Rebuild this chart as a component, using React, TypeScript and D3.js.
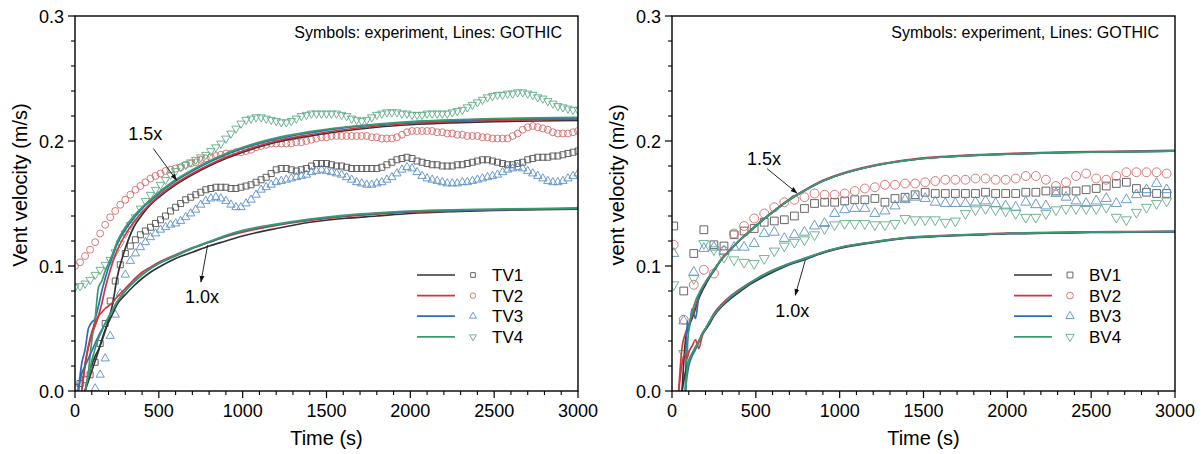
import React from 'react';
import * as d3 from 'd3';

// experiment sampling instants (s)
const topTime = d3.range(0, 3001, 30);
const botTime = d3.range(10, 3000, 60);
// GOTHIC output instants (s)
const modelTime = [0, 20, 40, 60, 80, 90, 100, 120, 140, 160, 180, 200, 225, 250, 300, 350, 400, 450, 500,
  600, 700, 800, 900, 1000, 1200, 1400, 1600, 1800, 2000, 2250, 2500, 2750, 3000];

// top vents, experiment
const TV1 = [0.003, 0.006, 0.009, 0.013, 0.023, 0.038, 0.054, 0.072, 0.088, 0.101, 0.110, 0.116, 0.121, 0.125, 0.128,
  0.131, 0.134, 0.137, 0.140, 0.144, 0.147, 0.150, 0.153, 0.155, 0.157, 0.159, 0.161, 0.162, 0.163, 0.163,
  0.163, 0.162, 0.162, 0.163, 0.164, 0.165, 0.167, 0.169, 0.171, 0.174, 0.177, 0.178, 0.178, 0.177, 0.176,
  0.177, 0.178, 0.180, 0.182, 0.182, 0.182, 0.181, 0.180, 0.180, 0.179, 0.178, 0.178, 0.178, 0.178, 0.178,
  0.178, 0.179, 0.181, 0.183, 0.185, 0.186, 0.187, 0.186, 0.184, 0.183, 0.182, 0.181, 0.181, 0.180, 0.180,
  0.180, 0.181, 0.181, 0.182, 0.183, 0.184, 0.185, 0.185, 0.184, 0.183, 0.182, 0.181, 0.181, 0.182, 0.183,
  0.185, 0.186, 0.187, 0.187, 0.187, 0.188, 0.188, 0.189, 0.190, 0.191, 0.192];
const TV2 = [0.100, 0.103, 0.108, 0.113, 0.119, 0.126, 0.133, 0.139, 0.144, 0.149, 0.153, 0.157, 0.161, 0.164, 0.167,
  0.170, 0.172, 0.174, 0.176, 0.177, 0.178, 0.179, 0.181, 0.182, 0.183, 0.185, 0.186, 0.187, 0.188, 0.189,
  0.190, 0.190, 0.191, 0.191, 0.192, 0.193, 0.195, 0.196, 0.197, 0.198, 0.198, 0.198, 0.198, 0.198, 0.199,
  0.199, 0.200, 0.201, 0.202, 0.203, 0.203, 0.204, 0.204, 0.204, 0.204, 0.204, 0.204, 0.204, 0.204, 0.203,
  0.203, 0.202, 0.202, 0.202, 0.203, 0.205, 0.207, 0.208, 0.208, 0.208, 0.208, 0.208, 0.207, 0.207, 0.206,
  0.206, 0.205, 0.205, 0.204, 0.204, 0.204, 0.203, 0.203, 0.202, 0.202, 0.202, 0.202, 0.204, 0.206, 0.209,
  0.211, 0.212, 0.211, 0.210, 0.209, 0.207, 0.206, 0.206, 0.206, 0.207, 0.208];
const TV3 = [null, null, null, null, 0.002, 0.013, 0.026, 0.044, 0.061, 0.078, 0.093, 0.104, 0.110, 0.115, 0.119,
  0.123, 0.126, 0.129, 0.131, 0.133, 0.134, 0.136, 0.139, 0.142, 0.145, 0.149, 0.152, 0.154, 0.155, 0.154,
  0.152, 0.149, 0.147, 0.147, 0.150, 0.153, 0.157, 0.161, 0.163, 0.165, 0.167, 0.168, 0.169, 0.170, 0.171,
  0.172, 0.173, 0.175, 0.176, 0.177, 0.176, 0.175, 0.174, 0.173, 0.171, 0.169, 0.167, 0.166, 0.165, 0.165,
  0.166, 0.167, 0.169, 0.171, 0.174, 0.177, 0.179, 0.178, 0.175, 0.172, 0.170, 0.169, 0.168, 0.167, 0.166,
  0.166, 0.166, 0.167, 0.167, 0.168, 0.169, 0.170, 0.171, 0.172, 0.173, 0.175, 0.177, 0.178, 0.179, 0.178,
  0.176, 0.174, 0.172, 0.170, 0.168, 0.167, 0.167, 0.168, 0.170, 0.172, 0.174];
const TV4 = [0.083, 0.084, 0.086, 0.089, 0.093, 0.097, 0.101, 0.105, 0.111, 0.118, 0.126, 0.133, 0.139, 0.146, 0.152,
  0.157, 0.161, 0.165, 0.169, 0.173, 0.176, 0.179, 0.181, 0.183, 0.185, 0.187, 0.189, 0.192, 0.195, 0.198,
  0.202, 0.206, 0.210, 0.214, 0.217, 0.218, 0.219, 0.219, 0.218, 0.217, 0.216, 0.215, 0.215, 0.216, 0.218,
  0.220, 0.221, 0.222, 0.222, 0.222, 0.222, 0.222, 0.222, 0.221, 0.220, 0.218, 0.217, 0.216, 0.217, 0.219,
  0.221, 0.222, 0.223, 0.223, 0.223, 0.222, 0.222, 0.221, 0.221, 0.221, 0.222, 0.222, 0.222, 0.222, 0.222,
  0.223, 0.224, 0.225, 0.227, 0.229, 0.231, 0.233, 0.235, 0.236, 0.237, 0.237, 0.238, 0.238, 0.239, 0.239,
  0.238, 0.237, 0.235, 0.234, 0.232, 0.230, 0.228, 0.227, 0.226, 0.225, 0.225];

// bottom vents, experiment
const BV1 = [0.132, 0.080, 0.110, 0.129, 0.117, 0.116, 0.125, 0.128, 0.130, 0.135, 0.136, 0.137, 0.140, 0.146, 0.150,
  0.151, 0.151, 0.152, 0.153, 0.153, 0.154, 0.151, 0.154, 0.155, 0.157, 0.159, 0.158, 0.158, 0.158, 0.158,
  0.158, 0.159, 0.158, 0.158, 0.158, 0.159, 0.159, 0.160, 0.160, 0.160, 0.160, 0.161, 0.162, 0.164, 0.166,
  0.167, 0.162, 0.159, 0.158, 0.158];
const BV2 = [0.117, 0.057, 0.085, 0.097, 0.094, 0.112, 0.126, 0.132, 0.138, 0.142, 0.147, 0.151, 0.153, 0.155, 0.158,
  0.157, 0.157, 0.158, 0.160, 0.162, 0.163, 0.165, 0.165, 0.166, 0.166, 0.167, 0.168, 0.169, 0.169, 0.169,
  0.170, 0.170, 0.169, 0.169, 0.170, 0.172, 0.172, 0.169, 0.164, 0.167, 0.172, 0.174, 0.170, 0.169, 0.172,
  0.175, 0.175, 0.175, 0.175, 0.174];
const BV3 = [0.110, 0.056, 0.095, 0.114, 0.115, 0.112, 0.115, 0.115, 0.118, 0.126, 0.127, 0.122, 0.125, 0.127, 0.132,
  0.134, 0.142, 0.145, 0.146, 0.146, 0.142, 0.144, 0.148, 0.153, 0.155, 0.154, 0.151, 0.150, 0.150, 0.150,
  0.151, 0.152, 0.150, 0.148, 0.147, 0.151, 0.149, 0.148, 0.158, 0.155, 0.152, 0.150, 0.152, 0.154, 0.150,
  0.153, 0.157, 0.161, 0.166, 0.161];
const BV4 = [0.085, 0.030, 0.090, 0.118, 0.113, 0.107, 0.105, 0.103, 0.102, 0.106, 0.112, 0.116, 0.119, 0.121, 0.125,
  0.130, 0.133, 0.134, 0.134, 0.134, 0.133, 0.133, 0.134, 0.138, 0.137, 0.137, 0.137, 0.135, 0.136, 0.142,
  0.145, 0.146, 0.145, 0.144, 0.142, 0.139, 0.139, 0.142, 0.145, 0.146, 0.146, 0.146, 0.146, 0.147, 0.139,
  0.137, 0.143, 0.147, 0.150, 0.152];

// GOTHIC, top vents
const topG15 = [
  [null, null, null, 0.000, 0.012, 0.017, 0.021, 0.028, 0.033, 0.040, 0.048, 0.057, 0.070, 0.090, 0.114, 0.131, 0.141,
    0.149, 0.155, 0.165, 0.173, 0.180, 0.186, 0.191, 0.199, 0.204, 0.208, 0.211, 0.213, 0.2145, 0.2155, 0.216, 0.2165],
  [null, null, 0.000, 0.020, 0.035, 0.040, 0.045, 0.052, 0.060, 0.070, 0.082, 0.092, 0.103, 0.112, 0.125, 0.135, 0.143,
    0.150, 0.156, 0.166, 0.174, 0.181, 0.187, 0.192, 0.200, 0.205, 0.209, 0.212, 0.214, 0.2155, 0.2165, 0.217, 0.2175],
  [null, 0.000, 0.022, 0.033, 0.050, 0.053, 0.055, 0.058, 0.068, 0.080, 0.090, 0.099, 0.108, 0.117, 0.129, 0.138, 0.146,
    0.152, 0.158, 0.168, 0.176, 0.183, 0.189, 0.194, 0.2015, 0.2065, 0.2105, 0.213, 0.215, 0.2165, 0.2175, 0.218, 0.2185],
  [null, null, null, 0.000, 0.015, 0.028, 0.040, 0.058, 0.083, 0.088, 0.096, 0.102, 0.110, 0.119, 0.131, 0.140, 0.147,
    0.153, 0.159, 0.169, 0.177, 0.184, 0.190, 0.195, 0.2025, 0.2075, 0.211, 0.2135, 0.2155, 0.217, 0.218, 0.2185, 0.219],
];
const topG10 = [
  [null, null, null, 0.000, 0.008, 0.012, 0.016, 0.024, 0.032, 0.041, 0.049, 0.055, 0.062, 0.069, 0.077, 0.084, 0.090,
    0.095, 0.099, 0.106, 0.111, 0.116, 0.120, 0.124, 0.130, 0.135, 0.138, 0.140, 0.142, 0.1435, 0.1445, 0.145, 0.1455],
  [null, null, 0.000, 0.022, 0.036, 0.042, 0.047, 0.055, 0.060, 0.063, 0.066, 0.068, 0.071, 0.075, 0.082, 0.089, 0.095,
    0.099, 0.103, 0.109, 0.1145, 0.119, 0.1235, 0.127, 0.1325, 0.1365, 0.1395, 0.1415, 0.143, 0.144, 0.145, 0.1455, 0.146],
  [null, 0.000, 0.014, 0.020, 0.026, 0.029, 0.032, 0.038, 0.044, 0.049, 0.054, 0.059, 0.065, 0.071, 0.080, 0.087, 0.093,
    0.098, 0.102, 0.108, 0.114, 0.119, 0.124, 0.128, 0.133, 0.137, 0.140, 0.142, 0.1435, 0.1445, 0.145, 0.1455, 0.146],
  [null, null, null, 0.000, 0.012, 0.018, 0.024, 0.034, 0.042, 0.048, 0.054, 0.059, 0.065, 0.071, 0.080, 0.087, 0.093,
    0.098, 0.102, 0.1085, 0.1145, 0.1195, 0.1245, 0.1285, 0.1335, 0.1375, 0.1405, 0.1425, 0.144, 0.145, 0.1455, 0.146, 0.1465],
];

// GOTHIC, bottom vents
const botG15 = [
  [null, null, null, 0.000, 0.040, 0.048, 0.052, 0.058, 0.066, 0.074, 0.080, 0.085, 0.091, 0.096, 0.106, 0.113, 0.120,
    0.126, 0.132, 0.143, 0.153, 0.161, 0.168, 0.173, 0.180, 0.1845, 0.187, 0.1885, 0.1895, 0.1905, 0.191, 0.1915, 0.192],
  [null, null, 0.000, 0.035, 0.046, 0.050, 0.053, 0.060, 0.068, 0.076, 0.082, 0.087, 0.092, 0.097, 0.1065, 0.1135, 0.1205,
    0.1265, 0.1325, 0.1435, 0.1535, 0.1615, 0.1685, 0.1735, 0.1805, 0.185, 0.1875, 0.189, 0.190, 0.191, 0.1915, 0.192, 0.1925],
  [null, null, null, null, 0.000, 0.056, 0.048, 0.066, 0.058, 0.076, 0.082, 0.087, 0.092, 0.097, 0.106, 0.113, 0.120,
    0.126, 0.132, 0.143, 0.153, 0.161, 0.168, 0.173, 0.180, 0.1845, 0.187, 0.1885, 0.1895, 0.1905, 0.191, 0.1915, 0.192],
  [null, null, null, null, 0.000, 0.030, 0.050, 0.063, 0.072, 0.078, 0.083, 0.087, 0.092, 0.097, 0.106, 0.113, 0.120,
    0.126, 0.132, 0.143, 0.153, 0.161, 0.168, 0.173, 0.180, 0.1845, 0.187, 0.1885, 0.1895, 0.1905, 0.191, 0.1915, 0.192],
];
const botG10 = [
  [null, null, null, 0.000, 0.015, 0.020, 0.024, 0.030, 0.035, 0.040, 0.045, 0.049, 0.054, 0.060, 0.068, 0.074, 0.079,
    0.084, 0.088, 0.095, 0.101, 0.1055, 0.1105, 0.114, 0.1187, 0.1222, 0.1238, 0.1248, 0.1258, 0.1263, 0.1268, 0.127, 0.1273],
  [null, null, 0.000, 0.022, 0.030, 0.026, 0.031, 0.036, 0.041, 0.034, 0.044, 0.050, 0.056, 0.062, 0.070, 0.076, 0.081,
    0.0855, 0.0895, 0.0965, 0.102, 0.1065, 0.111, 0.1148, 0.1192, 0.1227, 0.1243, 0.1253, 0.1263, 0.1268, 0.1273, 0.1275, 0.1278],
  [null, null, null, null, 0.000, 0.012, 0.020, 0.028, 0.033, 0.039, 0.046, 0.050, 0.055, 0.061, 0.069, 0.075, 0.080,
    0.085, 0.089, 0.096, 0.1015, 0.106, 0.111, 0.1145, 0.119, 0.1225, 0.124, 0.125, 0.126, 0.1265, 0.127, 0.1272, 0.1275],
  [null, null, null, null, 0.000, 0.018, 0.024, 0.030, 0.035, 0.040, 0.046, 0.050, 0.056, 0.061, 0.069, 0.0755, 0.0805,
    0.085, 0.0895, 0.0965, 0.102, 0.1065, 0.1112, 0.1148, 0.1193, 0.1227, 0.1242, 0.1252, 0.1262, 0.1267, 0.1272, 0.1274, 0.1277],
];

const topNames = ['TV1', 'TV2', 'TV3', 'TV4'];
const botNames = ['BV1', 'BV2', 'BV3', 'BV4'];
const xTicks = [0, 500, 1000, 1500, 2000, 2500, 3000];
const yTicks = [0, 0.1, 0.2, 0.3];

const lineColors = ['#333333', '#d1363f', '#2e6db4', '#3a9b6c'];
const symColors = ['#555555', '#d46a6a', '#5a8fc8', '#5fab86'];
const FONT = 'Liberation Sans, Arial, sans-serif';

type Pt = { t: number; v: number };

function Panel(props: {
  id: string; x0: number; x1: number; time: number[]; exp: (number | null)[][];
  g15: (number | null)[][]; g10: (number | null)[][]; names: string[]; yTitle: string;
  symSize: number[]; legSize: number[];
  lab15: Pt; arr15: [Pt, Pt]; lab10: Pt; arr10: [Pt, Pt];
}) {
  const { id, x0, x1 } = props;
  const top = 16, bottom = 391;
  const x = d3.scaleLinear().domain([0, 3000]).range([x0, x1]);
  const y = d3.scaleLinear().domain([0, 0.3]).range([bottom, top]);
  const line = d3.line<[number, number | null]>()
    .defined(d => d[1] !== null)
    .x(d => x(d[0]))
    .y(d => y(d[1] as number))
    .curve(d3.curveMonotoneX);
  const shapes = [d3.symbolSquare, d3.symbolCircle, d3.symbolTriangle, d3.symbolTriangle];
  const sym = (i: number, size: number) => d3.symbol().type(shapes[i]).size(size)() as string;
  const xMinor = d3.range(0, 3001, 100).filter(v => v % 500 !== 0);
  const yMinor = d3.range(0, 16).filter(i => i % 5 !== 0).map(i => i * 0.02);
  const legY = (i: number) => 275 + i * 20.6;

  const arrow = (a: [Pt, Pt]) => (
    <line x1={x(a[0].t)} y1={y(a[0].v)} x2={x(a[1].t)} y2={y(a[1].v)}
      stroke="#111" strokeWidth={0.9} markerEnd={`url(#head-${id})`} />
  );

  return (
    <g>
      <defs>
        <clipPath id={`clip-${id}`}>
          <rect x={x0} y={top} width={x1 - x0} height={bottom - top} />
        </clipPath>
        <marker id={`head-${id}`} viewBox="0 0 10 10" refX={9} refY={5} markerWidth={7} markerHeight={7}
          markerUnits="userSpaceOnUse" orient="auto">
          <path d="M0,1.5 L10,5 L0,8.5 Z" fill="#111" />
        </marker>
      </defs>

      <g clipPath={`url(#clip-${id})`}>
        {props.exp.map((vals, i) => (
          <g key={i} stroke={symColors[i]} fill="none" strokeWidth={0.9}>
            {vals.map((v, k) => v === null ? null : (
              <path key={k} d={sym(i, props.symSize[i])}
                transform={`translate(${x(props.time[k])},${y(v)})${i === 3 ? ' rotate(180)' : ''}`} />
            ))}
          </g>
        ))}
        {[props.g15, props.g10].map((grp, gi) => grp.map((vals, i) => (
          <path key={`${gi}-${i}`} d={line(modelTime.map((t, k) => [t, vals[k]] as [number, number | null])) as string}
            fill="none" stroke={lineColors[i]} strokeWidth={1.7} />
        )))}
      </g>

      <rect x={x0} y={top} width={x1 - x0} height={bottom - top} fill="none" stroke="#000" strokeWidth={1.4} />

      {xTicks.map(t => (
        <g key={t}>
          <line x1={x(t)} x2={x(t)} y1={bottom} y2={bottom + 7} stroke="#000" strokeWidth={1.2} />
          <text x={x(t)} y={417} textAnchor="middle" fontSize={18} fontFamily={FONT}>{t}</text>
        </g>
      ))}
      {xMinor.map(t => (
        <line key={t} x1={x(t)} x2={x(t)} y1={bottom} y2={bottom + 4} stroke="#000" strokeWidth={1.1} />
      ))}
      {yTicks.map(v => (
        <g key={v}>
          <line x1={x0 - 7} x2={x0} y1={y(v)} y2={y(v)} stroke="#000" strokeWidth={1.2} />
          <text x={x0 - 11} y={y(v) + 6.5} textAnchor="end" fontSize={18} fontFamily={FONT}>{d3.format('.1f')(v)}</text>
        </g>
      ))}
      {yMinor.map(v => (
        <line key={v} x1={x0 - 4} x2={x0} y1={y(v)} y2={y(v)} stroke="#000" strokeWidth={1.1} />
      ))}

      <text x={(x0 + x1) / 2} y={445} textAnchor="middle" fontSize={20} fontFamily={FONT}>Time (s)</text>
      <text transform={`translate(${x0 - 48},185) rotate(-90)`} textAnchor="middle" fontSize={20} fontFamily={FONT}>
        {props.yTitle}
      </text>
      <text x={x1 - 16} y={38} textAnchor="end" fontSize={16} fontFamily={FONT}>Symbols: experiment, Lines: GOTHIC</text>

      <text x={x(props.lab15.t)} y={y(props.lab15.v)} fontSize={18} fontFamily={FONT}>1.5x</text>
      {arrow(props.arr15)}
      <text x={x(props.lab10.t)} y={y(props.lab10.v)} fontSize={18} fontFamily={FONT}>1.0x</text>
      {arrow(props.arr10)}

      {props.names.map((n, i) => (
        <g key={n}>
          <line x1={x1 - 161} x2={x1 - 123} y1={legY(i)} y2={legY(i)} stroke={lineColors[i]} strokeWidth={1.7} />
          <path d={sym(i, props.legSize[i])} fill="none" stroke={symColors[i]} strokeWidth={0.9}
            transform={`translate(${x1 - 105},${legY(i)})${i === 3 ? ' rotate(180)' : ''}`} />
          <text x={x1 - 86} y={legY(i) + 6} fontSize={17} fontFamily={FONT}>{n}</text>
        </g>
      ))}
    </g>
  );
}

export default function App() {
  return (
    <svg width={1204} height={454} style={{ position: 'absolute', left: 0, top: 0, background: '#fff' }}>
      <Panel id="top" x0={75} x1={578} time={topTime} exp={[TV1, TV2, TV3, TV4]} g15={topG15} g10={topG10}
        names={topNames} yTitle="Vent velocity (m/s)" symSize={[36, 38, 30, 30]} legSize={[22, 24, 20, 20]}
        lab15={{ t: 318, v: 0.201 }} arr15={[{ t: 467, v: 0.194 }, { t: 606, v: 0.1686 }]}
        lab10={{ t: 656, v: 0.0704 }} arr10={[{ t: 791, v: 0.1166 }, { t: 751, v: 0.0872 }]} />
      <Panel id="bot" x0={672} x1={1175} time={botTime} exp={[BV1, BV2, BV3, BV4]} g15={botG15} g10={botG10}
        names={botNames} yTitle="vent velocity (m/s)" symSize={[60, 62, 44, 44]} legSize={[34, 36, 30, 30]}
        lab15={{ t: 447, v: 0.1806 }} arr15={[{ t: 566, v: 0.178 }, { t: 745, v: 0.1584 }]}
        lab10={{ t: 616, v: 0.0592 }} arr10={[{ t: 795, v: 0.1046 }, { t: 735, v: 0.0766 }]} />
    </svg>
  );
}
